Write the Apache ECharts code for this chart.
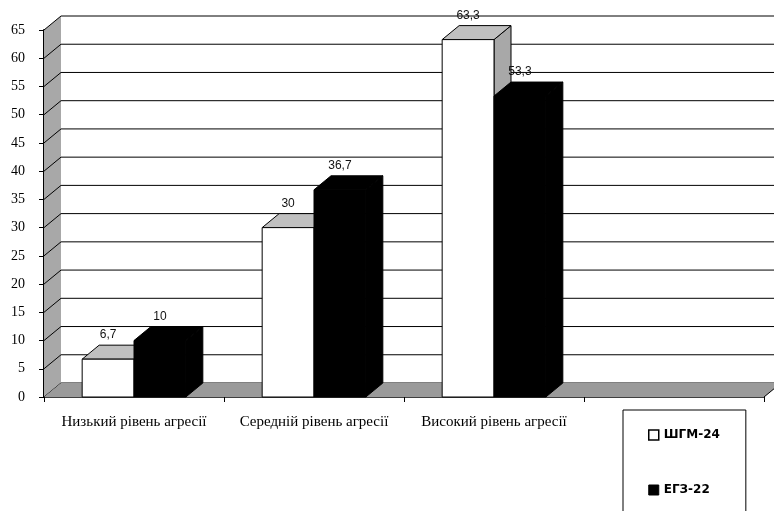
<!DOCTYPE html>
<html>
<head>
<meta charset="utf-8">
<style>
  html, body { margin: 0; padding: 0; background: #fff; }
  #chart { width: 774px; height: 511px; }
</style>
<script src="https://cdn.jsdelivr.net/npm/echarts@6/dist/echarts.min.js"></script>
</head>
<body>
<div id="chart"></div>
<script>
// data
const categories = ['Низький рівень агресії', 'Середній рівень агресії', 'Високий рівень агресії', '']
const seriesNames = ['ШГМ-24', 'ЕГЗ-22']
const shgmValues = [6.7, 30, 63.3]
const egzValues = [10, 36.7, 53.3]
const yTicks = [0, 5, 10, 15, 20, 25, 30, 35, 40, 45, 50, 55, 60, 65]

// fake 3d depth
const DX = 17
const DY = -14

const chart = echarts.init(document.getElementById('chart'))

function fmt(v) {
  return String(v).replace('.', ',')
}

// back wall, side wall and floor
function renderWall(params, api) {
  const v = api.value(1)
  const p = api.coord([0, v])
  const bw = api.size([1, 0])[0]
  const x0 = p[0] - bw / 2
  const xEnd = api.coord([categories.length - 1, v])[0] + bw / 2
  const children = []
  if (params.dataIndex === 0) {
    const top = api.coord([0, yTicks[yTicks.length - 1]])[1]
    // left wall
    children.push({
      type: 'polygon',
      shape: { points: [[x0, p[1]], [x0 + DX, p[1] + DY], [x0 + DX, top + DY], [x0, top]] },
      style: { fill: '#a8a8a8', stroke: null }
    })
  }
  children.push({
    type: 'line',
    shape: { x1: x0 + DX, y1: p[1] + DY, x2: xEnd + DX, y2: p[1] + DY },
    style: { stroke: '#000', lineWidth: 1 }
  })
  children.push({
    type: 'line',
    shape: { x1: x0, y1: p[1], x2: x0 + DX, y2: p[1] + DY },
    style: { stroke: '#000', lineWidth: 1 }
  })
  if (params.dataIndex === 0) {
    // floor
    children.push({
      type: 'polygon',
      shape: { points: [[x0, p[1]], [x0 + DX, p[1] + DY], [xEnd + DX, p[1] + DY], [xEnd, p[1]]] },
      style: { fill: '#9a9a9a', stroke: null },
      z2: 10
    })
    children.push({
      type: 'line',
      shape: { x1: xEnd, y1: p[1], x2: xEnd + DX, y2: p[1] + DY },
      style: { stroke: '#000', lineWidth: 1 },
      z2: 11
    })
  }
  return { type: 'group', children: children }
}

function makeBarRender(kind, faceColor, topColor, sideColor) {
  return function (params, api) {
    const idx = api.value(0)
    const c = api.coord([idx, api.value(1)])
    const base = api.coord([idx, 0])
    const bw = api.size([1, 0])[0]
    const w = bw * 0.288
    const x = kind === 0 ? c[0] - w : c[0]
    const yTop = c[1]
    const yBot = base[1]
    return {
      type: 'group',
      children: [
        {
          type: 'polygon',
          shape: { points: [[x + w, yTop], [x + w + DX, yTop + DY], [x + w + DX, yBot + DY], [x + w, yBot]] },
          style: { fill: sideColor, stroke: '#000', lineWidth: 1 }
        },
        {
          type: 'polygon',
          shape: { points: [[x, yTop], [x + DX, yTop + DY], [x + w + DX, yTop + DY], [x + w, yTop]] },
          style: { fill: topColor, stroke: '#000', lineWidth: 1 }
        },
        {
          type: 'rect',
          shape: { x: x, y: yTop, width: w, height: yBot - yTop },
          style: { fill: faceColor, stroke: '#000', lineWidth: 1 }
        },
        {
          type: 'text',
          z2: 100,
          style: {
            x: x + w / 2,
            y: yTop + DY - 10,
            text: fmt(api.value(1)),
            align: 'center',
            verticalAlign: 'middle',
            fill: '#111',
            font: '12px "Liberation Sans", Arial, sans-serif'
          }
        }
      ]
    }
  }
}

const option = {
  animation: false,
  grid: { left: 44, right: 10, top: 30, bottom: 114 },
  legend: {
    left: 623,
    top: 410,
    height: 140,
    orient: 'vertical',
    selectedMode: false,
    borderColor: '#000',
    borderWidth: 1,
    padding: [18, 26, 40, 25],
    itemGap: 41,
    itemWidth: 10,
    itemHeight: 10,
    icon: 'rect',
    textStyle: {
      fontFamily: 'DejaVu Sans',
      fontWeight: 'bold',
      fontSize: 12,
      lineHeight: 14,
      color: '#000'
    },
    data: [
      { name: seriesNames[0], itemStyle: { color: '#fff', borderColor: '#000', borderWidth: 1.5 } },
      { name: seriesNames[1], itemStyle: { color: '#000', borderColor: '#000', borderWidth: 1 } }
    ]
  },
  xAxis: {
    type: 'category',
    data: categories,
    axisLine: { lineStyle: { color: '#000', width: 1.5 } },
    axisTick: { show: true, interval: 0, length: 5, lineStyle: { color: '#000' } },
    axisLabel: {
      interval: 0,
      margin: 18,
      color: '#000',
      fontFamily: '"Liberation Serif", "Times New Roman", serif',
      fontSize: 15
    },
    splitLine: { show: false }
  },
  yAxis: {
    type: 'value',
    min: 0,
    max: 65,
    interval: 5,
    axisLine: { show: true, lineStyle: { color: '#000', width: 2 } },
    axisTick: { show: true, length: 5, lineStyle: { color: '#000' } },
    axisLabel: {
      margin: 19,
      color: '#000',
      fontFamily: '"Liberation Serif", "Times New Roman", serif',
      fontSize: 14
    },
    splitLine: { show: false }
  },
  series: [
    {
      type: 'custom',
      name: 'wall',
      silent: true,
      renderItem: renderWall,
      data: yTicks.map(v => [0, v]),
      z: 1
    },
    {
      type: 'custom',
      name: seriesNames[0],
      renderItem: makeBarRender(0, '#fff', '#c0c0c0', '#a8a8a8'),
      itemStyle: { color: '#fff' },
      data: shgmValues.map((v, i) => [i, v]),
      z: 2
    },
    {
      type: 'custom',
      name: seriesNames[1],
      renderItem: makeBarRender(1, '#000', '#000', '#000'),
      itemStyle: { color: '#000' },
      data: egzValues.map((v, i) => [i, v]),
      z: 3
    }
  ]
}

chart.setOption(option)
</script>
</body>
</html>
